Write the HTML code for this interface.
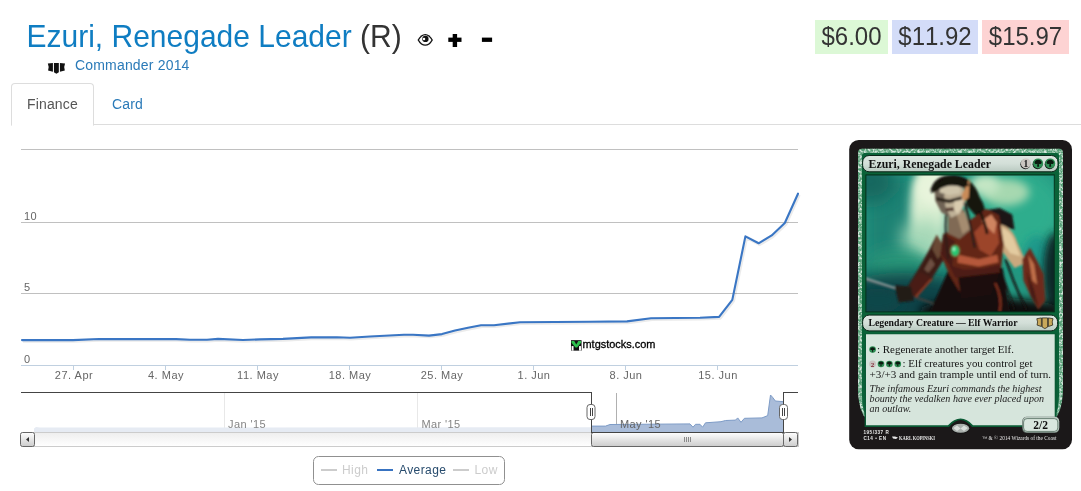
<!DOCTYPE html>
<html><head><meta charset="utf-8">
<style>
html,body{margin:0;padding:0;background:#fff;}
body{width:1081px;height:491px;position:relative;overflow:hidden;font-family:"Liberation Sans",sans-serif;color:#333;}
.abs{position:absolute;white-space:nowrap;}
#title{left:26.5px;top:18.7px;font-size:30px;line-height:36px;color:#0f7dc2;transform:scaleY(1.045);transform-origin:0 27.5px;}
#title span{color:#333;}
#set{left:75px;top:55px;font-size:14px;line-height:20px;color:#2a7ab8;letter-spacing:0.18px;}
.tabline{left:11px;top:124px;width:1070px;height:1px;background:#ddd;}
#tab1{left:11px;top:83px;width:81px;height:41px;border:1px solid #ddd;border-bottom:1px solid #fff;border-radius:4px 4px 0 0;background:#fff;}
#tab1t{left:27px;top:94px;font-size:14px;line-height:20px;color:#555;letter-spacing:0.15px;}
#tab2t{left:112px;top:94px;font-size:14px;line-height:20px;color:#2a7ab8;letter-spacing:0.15px;}
.price{top:20px;height:34px;font-size:24px;line-height:34px;text-align:center;color:#333;font-kerning:none;}
.price span{display:inline-block;transform:scaleY(1.04);transform-origin:0 26px;}
#wrap{position:absolute;left:0;top:0;width:1081px;height:491px;will-change:transform;transform:translateZ(0);}
</style></head><body>
<div id="wrap">
<div class="abs" id="title">Ezuri, Renegade Leader <span>(R)</span></div>
<div class="abs" id="set">Commander 2014</div>
<div class="abs tabline"></div>
<div class="abs" id="tab1"></div>
<div class="abs" id="tab1t">Finance</div>
<div class="abs" id="tab2t">Card</div>
<div class="abs price" style="left:815px;width:73px;background:#dcf8d6;"><span>$6.00</span></div>
<div class="abs price" style="left:892px;width:86px;background:#d3dcf8;"><span>$11.92</span></div>
<div class="abs price" style="left:982px;width:87px;background:#fdd3d3;"><span>$15.97</span></div>
<svg class="abs" id="icons" style="left:0;top:0" width="540" height="82" viewBox="0 0 540 82">
<!-- eye -->
<g transform="translate(400,20) scale(0.10173)">
<path d="M172,196 Q205,140 248,138 Q292,140 324,196 Q292,254 248,254 Q205,254 172,196 Z" fill="#111"/>
<path d="M187,196 Q214,153 248,151 Q283,153 309,196 Q283,241 248,241 Q214,241 187,196 Z" fill="#fff"/>
<circle cx="250" cy="186" r="31" fill="#111"/>
<circle cx="236" cy="186" r="12" fill="#fff"/>
</g>
<!-- plus -->
<rect x="448.3" y="37.6" width="13.2" height="4.3" fill="#000"/>
<rect x="452.7" y="34" width="4.4" height="13" fill="#000"/>
<!-- minus -->
<rect x="481.9" y="37.6" width="10.2" height="4.3" fill="#000"/>
<!-- set symbol -->
<g transform="translate(35,50) scale(0.06109)" fill="#111">
<path d="M210,222 L293,213 L293,356 L214,334 Q236,280 210,222 Z"/>
<path d="M310,211 L390,211 L390,364 L350,390 L310,364 Z"/>
<path d="M492,222 L408,213 L408,356 L488,334 Q466,280 492,222 Z"/>
</g>
</svg>
<svg class="abs" id="chart" style="left:0;top:130px" width="830" height="361" viewBox="0 130 830 361" font-family="Liberation Sans, sans-serif">
<defs>
<linearGradient id="trk" x1="0" y1="0" x2="0" y2="1"><stop offset="0" stop-color="#eeeeee"/><stop offset="1" stop-color="#ffffff"/></linearGradient>
<linearGradient id="btn" x1="0" y1="0" x2="0" y2="1"><stop offset="0" stop-color="#ffffff"/><stop offset="1" stop-color="#cccccc"/></linearGradient>
<filter id="lsh" x="-5%" y="-5%" width="110%" height="110%"><feGaussianBlur stdDeviation="1"/></filter>
</defs>
<!-- gridlines -->
<g stroke="#c0c0c0" stroke-width="1" shape-rendering="crispEdges">
<line x1="21" x2="798" y1="149.5" y2="149.5"/>
<line x1="21" x2="798" y1="222.5" y2="222.5"/>
<line x1="21" x2="798" y1="293.5" y2="293.5"/>
</g>
<!-- x axis -->
<g stroke="#c0d0e0" stroke-width="1" shape-rendering="crispEdges">
<line x1="21" x2="798" y1="365.5" y2="365.5"/>
<line x1="73.5" x2="73.5" y1="365" y2="370"/>
<line x1="165.5" x2="165.5" y1="365" y2="370"/>
<line x1="257.5" x2="257.5" y1="365" y2="370"/>
<line x1="349.5" x2="349.5" y1="365" y2="370"/>
<line x1="441.5" x2="441.5" y1="365" y2="370"/>
<line x1="533.5" x2="533.5" y1="365" y2="370"/>
<line x1="625.5" x2="625.5" y1="365" y2="370"/>
<line x1="717.5" x2="717.5" y1="365" y2="370"/>
</g>
<g font-size="11" fill="#666" letter-spacing="0.5">
<text x="24" y="219.7">10</text>
<text x="24" y="290.7">5</text>
<text x="24" y="362.5">0</text>
<g text-anchor="middle">
<text x="74" y="379">27. Apr</text>
<text x="166" y="379">4. May</text>
<text x="258" y="379">11. May</text>
<text x="350" y="379">18. May</text>
<text x="442" y="379">25. May</text>
<text x="534" y="379">1. Jun</text>
<text x="626" y="379">8. Jun</text>
<text x="718" y="379">15. Jun</text>
</g>
</g>
<!-- series -->
<path id="ser" d="M22,340.1 L73,340.1 L99,339 L176,339.1 L190,339.8 L207,339.8 L218,338.9 L243,340 L260,339.4 L283,338.9 L311,337.4 L337,337.2 L350,337.8 L370,336.5 L404,334.8 L413,334.8 L429,335.6 L442,334.1 L455,330.5 L468,327.8 L481,325.2 L494,325.2 L520,322.2 L590,321.7 L627,321.4 L651,318.3 L700,317.8 L719.1,316.9 L732.3,299.9 L745.4,236.4 L758.6,243.3 L771.7,235.4 L784.8,223 L798,193.7" fill="none" stroke="#000" stroke-opacity="0.08" stroke-width="3.5" transform="translate(1,1)" stroke-linejoin="round"/>
<path d="M22,340.1 L73,340.1 L99,339 L176,339.1 L190,339.8 L207,339.8 L218,338.9 L243,340 L260,339.4 L283,338.9 L311,337.4 L337,337.2 L350,337.8 L370,336.5 L404,334.8 L413,334.8 L429,335.6 L442,334.1 L455,330.5 L468,327.8 L481,325.2 L494,325.2 L520,322.2 L590,321.7 L627,321.4 L651,318.3 L700,317.8 L719.1,316.9 L732.3,299.9 L745.4,236.4 L758.6,243.3 L771.7,235.4 L784.8,223 L798,193.7" fill="none" stroke="#3a76c4" stroke-width="2.1" stroke-linejoin="round" stroke-linecap="round"/>
<!-- watermark -->
<g>
<g transform="translate(560,330) scale(0.10173)">
<rect x="108" y="100" width="104" height="103" fill="#111"/>
<path d="M113,108 L140,108 L160,142 L180,108 L207,108 L207,126 L168,172 L152,172 L113,126 Z" fill="#2fc04e"/>
<rect x="114" y="158" width="19" height="45" fill="#fff"/>
<rect x="187" y="158" width="19" height="45" fill="#fff"/>
</g>
<text x="582.5" y="347.6" font-size="11" fill="#000" stroke="#000" stroke-width="0.3" textLength="73" lengthAdjust="spacingAndGlyphs">mtgstocks.com</text>
</g>
<!-- navigator -->
<g shape-rendering="crispEdges" stroke-width="1">
<line x1="224.5" x2="224.5" y1="393" y2="432" stroke="#e8e8e8"/>
<line x1="417.5" x2="417.5" y1="393" y2="432" stroke="#e8e8e8"/>
<line x1="616.5" x2="616.5" y1="393" y2="432" stroke="#b0b0b0"/>
</g>
<path d="M34,432 L34,428.5 L36,427 L40,427.5 L90,427.5 L200,427.6 L591,427.3 L591,432 Z" fill="#e6ebf3"/>
<path d="M591.5,432 L591.5,426.1 L605.5,426.1 L610,424.5 L690,423.9 L693,427.2 L695.5,424.3 L700,424.3 L702.6,427.2 L705.5,422.8 L721,421.7 L725.5,420.5 L735.5,420.1 L737.7,417.9 L741,422.3 L744.4,418.3 L762,417.9 L767.7,415.6 L770.5,395 L772.5,397.2 L775.4,401 L783.6,401.7 L783.6,432 Z" fill="#a9bcd9"/>
<path d="M591.5,426.1 L605.5,426.1 L610,424.5 L690,423.9 L693,427.2 L695.5,424.3 L700,424.3 L702.6,427.2 L705.5,422.8 L721,421.7 L725.5,420.5 L735.5,420.1 L737.7,417.9 L741,422.3 L744.4,418.3 L762,417.9 L767.7,415.6 L770.5,395 L772.5,397.2 L775.4,401 L783.6,401.7" fill="none" stroke="#7d9bc6" stroke-width="1"/>
<g font-size="11" fill="#858585" letter-spacing="0.4">
<text x="228" y="428.3">Jan '15</text>
<text x="421.5" y="428.3">Mar '15</text>
<text x="620" y="428.3" fill="#666">May '15</text>
</g>
<!-- scrollbar -->
<rect x="22" y="432.5" width="776" height="14" fill="url(#trk)" stroke="#cccccc" stroke-width="1" shape-rendering="crispEdges"/>
<rect x="591.5" y="432.5" width="192" height="14" rx="2" fill="url(#btn)" stroke="#666" stroke-width="1"/>
<g stroke="#8a8a8a" stroke-width="1" shape-rendering="crispEdges"><line x1="684.5" x2="684.5" y1="437" y2="442"/><line x1="686.5" x2="686.5" y1="437" y2="442"/><line x1="688.5" x2="688.5" y1="437" y2="442"/><line x1="690.5" x2="690.5" y1="437" y2="442"/></g>
<rect x="20.5" y="432.5" width="14" height="14" rx="2" fill="url(#btn)" stroke="#666" stroke-width="1"/>
<path d="M29,437 L29,442 L26,439.5 Z" fill="#333"/>
<rect x="783.5" y="432.5" width="14" height="14" rx="2" fill="url(#btn)" stroke="#666" stroke-width="1"/>
<path d="M789,437 L789,442 L792,439.5 Z" fill="#333"/>
<!-- navigator outline -->
<path d="M20.5,392.5 L591.5,392.5 L591.5,432.5 L783.5,432.5 L783.5,392.5 L797.5,392.5" fill="none" stroke="#444" stroke-width="1" shape-rendering="crispEdges"/>
<!-- handles -->
<g>
<rect x="587" y="404.5" width="8" height="15" rx="3" fill="#fff" stroke="#666" stroke-width="1"/>
<path d="M590,408 V416 M592,408 V416" stroke="#444" stroke-width="1" shape-rendering="crispEdges"/>
<rect x="779.5" y="404.5" width="8" height="15" rx="3" fill="#fff" stroke="#666" stroke-width="1"/>
<path d="M782.5,408 V416 M784.5,408 V416" stroke="#444" stroke-width="1" shape-rendering="crispEdges"/>
</g>
<!-- legend -->
<rect x="313.5" y="456.5" width="191" height="28" rx="5" fill="#fff" stroke="#909090" stroke-width="1"/>
<g font-size="12" letter-spacing="0.4">
<line x1="321" x2="337" y1="470" y2="470" stroke="#ccc" stroke-width="2"/>
<text x="342" y="474" fill="#ccc">High</text>
<line x1="377" x2="393" y1="470" y2="470" stroke="#3873c1" stroke-width="2"/>
<text x="399" y="474" fill="#274b6d">Average</text>
<line x1="453" x2="469" y1="470" y2="470" stroke="#ccc" stroke-width="2"/>
<text x="474.5" y="474" fill="#ccc">Low</text>
</g>
</svg>
<svg class="abs" id="card" style="left:840px;top:130px" width="241" height="361" viewBox="840 130 241 361">
<defs>
<filter id="b30" x="-50%" y="-50%" width="200%" height="200%"><feGaussianBlur stdDeviation="28"/></filter>
<filter id="b15" x="-50%" y="-50%" width="200%" height="200%"><feGaussianBlur stdDeviation="14"/></filter>
<filter id="b6" x="-50%" y="-50%" width="200%" height="200%"><feGaussianBlur stdDeviation="5"/></filter>
<filter id="b3" x="-20%" y="-20%" width="140%" height="140%"><feGaussianBlur stdDeviation="3.6"/></filter>
<filter id="b05" x="-20%" y="-20%" width="140%" height="140%"><feGaussianBlur stdDeviation="0.35"/></filter>
<filter id="tex" x="0" y="0" width="100%" height="100%"><feTurbulence type="fractalNoise" baseFrequency="0.45" numOctaves="2" seed="7" result="n"/><feColorMatrix in="n" type="matrix" values="0 0 0 0 1  0 0 0 0 1  0 0 0 0 1  3.2 0 0 0 -1.25"/><feComposite operator="in" in2="SourceGraphic"/></filter>
<linearGradient id="bar" x1="0" y1="0" x2="0" y2="1"><stop offset="0" stop-color="#dde6e0"/><stop offset="0.5" stop-color="#d3dfd8"/><stop offset="1" stop-color="#b9c9c0"/></linearGradient>
<clipPath id="artclip"><rect x="20" y="17" width="634" height="461"/></clipPath>
<g id="tree"><circle r="3.5" fill="#2f8f55"/><path d="M0,-2.6 C1.6,-2.6 2.6,-1.6 2.5,-0.5 C2.4,0.4 1.4,0.6 0.5,0.3 L0.7,2.3 L-0.7,2.3 L-0.5,0.3 C-1.4,0.6 -2.4,0.4 -2.5,-0.5 C-2.6,-1.6 -1.6,-2.6 0,-2.6 Z" fill="#0c1a10"/></g>
</defs>
<!-- card body -->
<rect x="849.2" y="140" width="222.8" height="309.3" rx="9.5" fill="#1b1819"/>
<!-- green frame -->
<path d="M862,148.8 H1059 Q1063,148.8 1063,153 V392 Q1062,412 1054,420 H867 Q859,412 858,392 V153 Q858,148.8 862,148.8 Z" fill="#559e75"/>
<path d="M862,148.8 H1059 Q1063,148.8 1063,153 V392 Q1062,412 1054,420 H867 Q859,412 858,392 V153 Q858,148.8 862,148.8 Z" fill="#b4e0c2" opacity="0.75" filter="url(#tex)"/>
<path d="M864.5,153 H1056.5 Q1059,153 1059,155.5 V396 Q1059,414 1052,420 H869 Q862,414 862,396 V155.5 Q862,153 864.5,153 Z" fill="#0a6238"/>
<path d="M865.5,174.5 H1054.8 V312.3 H865.5 Z" fill="#04381d"/>
<!-- ART -->
<g transform="translate(860,170) scale(0.29718)" clip-path="url(#artclip)">
<rect x="20" y="17" width="634" height="461" fill="#239680"/>
<rect x="20" y="17" width="160" height="461" fill="#1b8273" filter="url(#b30)"/>
<ellipse cx="30" cy="40" rx="90" ry="70" fill="#14685f" filter="url(#b30)"/>
<ellipse cx="520" cy="140" rx="170" ry="150" fill="#2dad8d" filter="url(#b30)"/>
<ellipse cx="230" cy="130" rx="62" ry="150" fill="#dcefd3" filter="url(#b15)"/>
<ellipse cx="215" cy="235" rx="75" ry="70" fill="#a6d8b8" filter="url(#b30)"/>
<ellipse cx="250" cy="60" rx="60" ry="60" fill="#e8f4dc" filter="url(#b15)"/>
<ellipse cx="490" cy="75" rx="80" ry="45" fill="#a6d8b0" filter="url(#b15)"/>
<ellipse cx="420" cy="50" rx="50" ry="35" fill="#c4e6c4" filter="url(#b15)"/>
<ellipse cx="130" cy="330" rx="110" ry="60" fill="#2a9a7a" filter="url(#b30)"/>
<ellipse cx="595" cy="300" rx="45" ry="80" fill="#1a988a" filter="url(#b15)"/>
<ellipse cx="150" cy="450" rx="270" ry="105" fill="#0b4347" filter="url(#b30)"/>
<ellipse cx="60" cy="440" rx="80" ry="40" fill="#0d4648" filter="url(#b15)"/>
<ellipse cx="658" cy="350" rx="42" ry="140" fill="#0a2826" filter="url(#b15)"/>
<ellipse cx="440" cy="475" rx="240" ry="45" fill="#100c0b" filter="url(#b15)"/>
<g filter="url(#b3)">
<!-- sword -->
<path d="M18,362 L124,396 L122,405 L18,373 Z" fill="#56666a"/>
<path d="M18,362 L124,396 L123,399 L18,365 Z" fill="#b5c6c2"/>
<path d="M186,424 L268,452 L272,462 L184,432 Z" fill="#3b3f3e"/>
<path d="M250,448 L272,455 L272,462 L252,456 Z" fill="#9aa8a4"/>
<!-- lower body -->
<path d="M296,340 L480,330 L505,478 L235,478 Z" fill="#140e0c"/>
<!-- left arm (viewer left) -->
<path d="M258,218 L288,292 L244,362 L190,428 L148,412 L195,335 L232,270 Z" fill="#3c1d15"/>
<path d="M238,296 L252,318 L230,346 L216,334 Z" fill="#6e5042"/>
<path d="M200,342 L246,366 L190,428 L150,414 Z" fill="#4a1e14"/>
<path d="M236,368 L246,366 L192,428 L184,426 Z" fill="#8a3a26"/>
<path d="M116,388 L172,392 L182,440 L130,446 Z" fill="#241a17"/>
<path d="M258,218 L286,262 L262,300 L243,265 Z" fill="#6a4a36"/>
<!-- cape -->
<path d="M428,135 L470,128 L512,150 L520,200 L470,190 L440,175 Z" fill="#1c1716"/>
<!-- right arm (viewer right) skin -->
<path d="M445,180 Q510,178 530,245 L560,312 L520,330 L480,275 L455,245 Z" fill="#c9a87e"/>
<path d="M455,190 Q505,192 522,245 L540,290 L505,280 L475,235 Z" fill="#e3cba0"/>
<!-- right gauntlet -->
<path d="M546,300 L572,262 L596,305 L618,350 L624,440 L600,470 L574,425 L550,372 Z" fill="#6e2c1b"/>
<path d="M566,285 L586,318 L596,385 L580,372 Z" fill="#c0704a"/>
<path d="M560,340 L585,400 L600,460 L575,425 Z" fill="#4a1c12"/>
<!-- hair back -->
<path d="M236,72 Q250,12 320,18 Q380,24 402,90 Q428,130 420,168 L388,152 L360,120 L350,60 L260,55 Z" fill="#18120f"/>
<!-- torso armor -->
<path d="M280,215 L332,195 L425,130 L468,152 L484,250 L474,338 L430,400 L335,410 L300,352 L270,282 Z" fill="#642618"/>
<path d="M384,210 L436,156 L460,174 L468,246 L440,290 L402,268 Z" fill="#9c452c"/>
<path d="M408,172 L442,150 L460,177 L452,215 Z" fill="#cf8460"/>
<path d="M330,285 L400,300 L462,285 L466,310 L400,325 L328,312 Z" fill="#b5583a"/>
<path d="M300,320 L350,335 L420,330 L470,318 L468,350 L400,368 L320,362 Z" fill="#4e1c12"/>
<path d="M330,362 L470,345 L440,420 L340,432 Z" fill="#1f100c"/>
<path d="M280,215 L320,240 L310,330 L272,282 Z" fill="#4a1f15"/>
<!-- neck -->
<path d="M296,138 L350,132 L374,200 L335,232 L296,214 Z" fill="#806a55"/>
<path d="M325,150 L352,140 L370,198 L345,215 Z" fill="#a58c70"/>
<!-- face -->
<path d="M250,60 Q300,34 346,50 L354,108 L338,146 L306,161 L274,142 L254,104 Z" fill="#bfb197"/>
<path d="M250,60 Q275,48 292,46 L283,90 L288,125 L306,161 L274,142 L254,104 Z" fill="#6f6355"/>
<path d="M256,90 L300,99 L342,88 L342,101 L300,112 L256,103 Z" fill="#2f251d"/>
<path d="M286,128 L322,125 L320,137 L291,139 Z" fill="#54392f"/>
<path d="M318,104 L350,99 L346,124 L328,148 L316,134 Z" fill="#d9cbae"/>
<path d="M270,50 L335,46 L338,78 L300,84 L268,76 Z" fill="#cfc4aa"/>
<!-- ear -->
<path d="M342,84 L370,26 L366,92 L350,108 Z" fill="#c98b58"/>
<!-- hair front -->
<path d="M238,78 Q260,24 320,24 Q354,28 368,52 L346,60 Q300,40 256,72 Z" fill="#18120f"/>
<!-- braids -->
<path d="M352,110 Q372,180 386,262" stroke="#2a1f1a" stroke-width="8" fill="none"/>
<path d="M290,150 Q284,220 298,300" stroke="#2a1f1a" stroke-width="6" fill="none"/>
<path d="M395,120 Q420,170 428,215" stroke="#18120f" stroke-width="9" fill="none"/>
<!-- necklace + gem -->
<ellipse cx="320" cy="272" rx="19" ry="23" fill="#6a4a28"/>
<ellipse cx="320" cy="272" rx="13" ry="17" fill="#27c873"/>
<ellipse cx="316" cy="266" rx="5" ry="7" fill="#9df2c2"/>
<!-- dangling strands lower right -->
<path d="M490,300 Q520,390 560,470" stroke="#15100d" stroke-width="7" fill="none"/>
<path d="M470,330 Q500,410 520,470" stroke="#15100d" stroke-width="6" fill="none"/>
<path d="M455,380 Q480,430 470,478" stroke="#7a2e1d" stroke-width="8" fill="none"/>
</g>
</g>
<!-- art border shading -->
<rect x="866" y="175.1" width="188.2" height="136.7" fill="none" stroke="#06321d" stroke-width="0.8"/>

<!-- title bar -->
<rect x="862.6" y="155.5" width="195.4" height="16.3" rx="6.5" fill="url(#bar)" stroke="#0a2417" stroke-width="1"/>
<text x="868.5" y="167.6" font-family="Liberation Serif, serif" font-weight="bold" font-size="12.5" fill="#111" textLength="122.5" lengthAdjust="spacingAndGlyphs">Ezuri, Renegade Leader</text>
<!-- mana cost -->
<circle cx="1025.4" cy="164.2" r="5" fill="#111"/>
<circle cx="1037.6" cy="164.2" r="5" fill="#111"/>
<circle cx="1049.7" cy="164.2" r="5" fill="#111"/>
<circle cx="1025.9" cy="163.4" r="5" fill="#cbc6c1"/>
<text x="1025.9" y="166.6" font-family="Liberation Serif, serif" font-weight="bold" font-size="9.5" fill="#111" text-anchor="middle">1</text>
<use href="#tree" transform="translate(1038.1,163.4) scale(1.43)"/>
<use href="#tree" transform="translate(1050.2,163.4) scale(1.43)"/>
<!-- type bar -->
<rect x="862.6" y="315.1" width="195" height="15.8" rx="6.5" fill="url(#bar)" stroke="#0a2417" stroke-width="1"/>
<text x="868.5" y="326" font-family="Liberation Serif, serif" font-weight="bold" font-size="10.5" fill="#111" textLength="149" lengthAdjust="spacingAndGlyphs">Legendary Creature — Elf Warrior</text>
<!-- set symbol -->
<g transform="translate(1036.8,317.9)" stroke="#1a1408" stroke-width="0.7" fill="#c8a85a">
<path d="M0,0.8 L4.6,0 L4.6,8.6 L0.3,7.2 Q1.4,4 0,0.8 Z"/>
<path d="M5.4,0 L10.8,0 L10.8,9.2 L8.1,10.7 L5.4,9.2 Z"/>
<path d="M16.2,0.8 L11.6,0 L11.6,8.6 L15.9,7.2 Q14.8,4 16.2,0.8 Z"/>
</g>
<!-- text box -->
<path d="M864.6,333.4 H1056.6 V427 H972 Q966,420 960.6,420 Q955,420 949,427 H864.6 Z" fill="#0a5a34"/>
<path d="M866,334.2 H1054.7 V425.2 H973 Q967,418.5 960.6,418.5 Q954,418.5 948,425.2 H866 Z" fill="#d6e5dc"/>
<g font-family="Liberation Serif, serif" font-size="9.6" fill="#151515">
<use href="#tree" transform="translate(872.6,349.6) scale(0.95)"/>
<text x="877" y="352.8" textLength="137" lengthAdjust="spacingAndGlyphs">: Regenerate another target Elf.</text>
<circle cx="872.6" cy="364" r="3.4" fill="#c9c3c0"/>
<text x="872.6" y="366.6" font-size="7" text-anchor="middle" fill="#7a1d2a" font-weight="bold">2</text>
<use href="#tree" transform="translate(881,364) scale(0.95)"/>
<use href="#tree" transform="translate(889.4,364) scale(0.95)"/>
<use href="#tree" transform="translate(897.8,364) scale(0.95)"/>
<text x="902.5" y="367.3" textLength="130" lengthAdjust="spacingAndGlyphs">: Elf creatures you control get</text>
<text x="869.6" y="377.7" textLength="181.5" lengthAdjust="spacingAndGlyphs">+3/+3 and gain trample until end of turn.</text>
<g font-style="italic" fill="#222">
<text x="869.6" y="391.8" textLength="172" lengthAdjust="spacingAndGlyphs">The infamous Ezuri commands the highest</text>
<text x="869.6" y="401.9" textLength="174.5" lengthAdjust="spacingAndGlyphs">bounty the vedalken have ever placed upon</text>
<text x="869.6" y="412" textLength="41.7" lengthAdjust="spacingAndGlyphs">an outlaw.</text>
</g>
</g>
<!-- holo stamp -->
<ellipse cx="960.6" cy="428.3" rx="9.5" ry="5.3" fill="#111"/>
<ellipse cx="960.6" cy="428.3" rx="8.6" ry="4.5" fill="#a9afac"/>
<path d="M953.5,428 L957,425.5 L960.6,428.5 L964,425.5 L967.8,428 L964,431 L960.6,428.5 L957,431 Z" fill="#d9dedb"/>
<!-- P/T -->
<rect x="1022.2" y="416.8" width="37" height="16.2" rx="4.5" fill="#5d6b64"/>
<rect x="1022.8" y="416.8" width="36.4" height="15.4" rx="4.5" fill="#b9c7bf"/>
<rect x="1023.6" y="418.6" width="34.2" height="12.8" rx="3.5" fill="#d9e6de" stroke="#2c4a3a" stroke-width="0.6"/>
<text x="1040.7" y="428.6" font-family="Liberation Serif, serif" font-weight="bold" font-size="11.5" fill="#111" text-anchor="middle">2/2</text>
<!-- bottom info -->
<g fill="#e8e8e8" font-family="Liberation Sans, sans-serif" font-weight="bold">
<text x="863.5" y="433.8" font-size="4.6" letter-spacing="0.5">195/337 R</text>
<text x="863.5" y="439.6" font-size="4.6" letter-spacing="0.5">C14 • EN</text>
<path d="M892,436.6 L895,436.6 L898,437.6 L896,439 L893,438.4 Z" fill="#e8e8e8"/>
<text x="899" y="439.6" font-size="5.4" font-family="Liberation Serif, serif" textLength="36" lengthAdjust="spacingAndGlyphs">KARL KOPINSKI</text>
<text x="982" y="439.6" font-size="5.2" font-family="Liberation Serif, serif" font-weight="normal" textLength="74.5" lengthAdjust="spacingAndGlyphs">™ &amp; © 2014 Wizards of the Coast</text>
</g>
</svg>
</div>
</body></html>
